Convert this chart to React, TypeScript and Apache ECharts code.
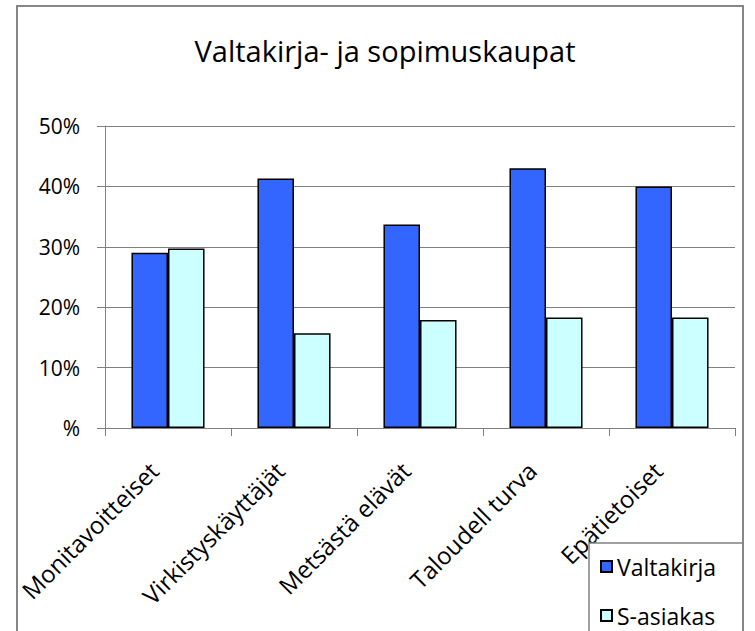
import React, { useEffect, useRef } from "react";
import * as echarts from "echarts";

const categories = ["Monitavoitteiset", "Virkistyskäyttäjät", "Metsästä elävät", "Taloudell turva", "Epätietoiset"];
const valtakirja = [29.0, 41.3, 33.7, 43.0, 40.0];
const sAsiakas = [29.7, 15.7, 17.9, 18.3, 18.3];
const seriesNames = ["Valtakirja", "S-asiakas"];
const titleText = "Valtakirja- ja sopimuskaupat";

const FONT = "Open Sans";

export default function App() {
  const ref = useRef<HTMLDivElement>(null);
  useEffect(() => {
    if (!ref.current) return;
    const chart = echarts.init(ref.current, null, { renderer: "svg" });
    chart.setOption({
      animation: false,
      backgroundColor: "#ffffff",
      title: {
        text: titleText,
        left: 380,
        textAlign: "center",
        top: 31,
        textStyle: { fontFamily: FONT, fontSize: 29, fontWeight: "normal", color: "#000" },
      },
      grid: { left: 105, right: 20, top: 126, bottom: 203, containLabel: false },
      xAxis: {
        type: "category",
        data: categories,
        axisLine: { lineStyle: { color: "#808080", width: 1 } },
        axisTick: { show: true, length: 8, lineStyle: { color: "#808080" } },
        axisLabel: {
          rotate: 45,
          interval: 0,
          margin: 24,
          padding: [0, 20, 0, 0],
          fontFamily: FONT,
          fontSize: 24,
          color: "#000",
        },
        z: 0,
      },
      yAxis: {
        type: "value",
        min: 0,
        max: 50,
        interval: 10,
        axisLine: { show: true, lineStyle: { color: "#808080", width: 1 } },
        axisTick: { show: true, length: 8, lineStyle: { color: "#808080" } },
        splitLine: { show: true, lineStyle: { color: "#808080", width: 1 } },
        axisLabel: {
          margin: 25,
          fontFamily: FONT,
          fontSize: 21,
          color: "#000",
          formatter: (v: number) => (v === 0 ? "%" : v + "%"),
        },
      },
      legend: {
        orient: "vertical",
        left: 600,
        top: 555,
        itemWidth: 11,
        itemHeight: 11,
        itemGap: 26,
        padding: 0,
        icon: "rect",
        z: 20,
        textStyle: { fontFamily: FONT, fontSize: 23, color: "#000", lineHeight: 22 },
        data: seriesNames,
      },
      graphic: [
        {
          type: "rect",
          z: 10,
          shape: { x: 589, y: 543, width: 154, height: 120 },
          style: { fill: "#ffffff", stroke: "#808080", lineWidth: 1.5 },
        },
        {
          type: "rect",
          z: 15,
          shape: { x: 17, y: 6, width: 726, height: 640 },
          style: { fill: "none", stroke: "#868686", lineWidth: 2 },
        },
      ],
      series: [
        {
          name: seriesNames[0],
          type: "bar",
          data: valtakirja,
          barGap: "0%",
          barCategoryGap: "42%",
          itemStyle: { color: "#3366FF", borderColor: "#000", borderWidth: 1.5 },
        },
        {
          name: seriesNames[1],
          type: "bar",
          data: sAsiakas,
          barGap: "0%",
          barCategoryGap: "42%",
          itemStyle: { color: "#CCFFFF", borderColor: "#000", borderWidth: 1.5 },
        },
      ],
    });
    return () => chart.dispose();
  }, []);
  return (
    <div
      ref={ref}
      style={{ position: "absolute", left: 0, top: 0, width: 755, height: 631 }}
    />
  );
}
